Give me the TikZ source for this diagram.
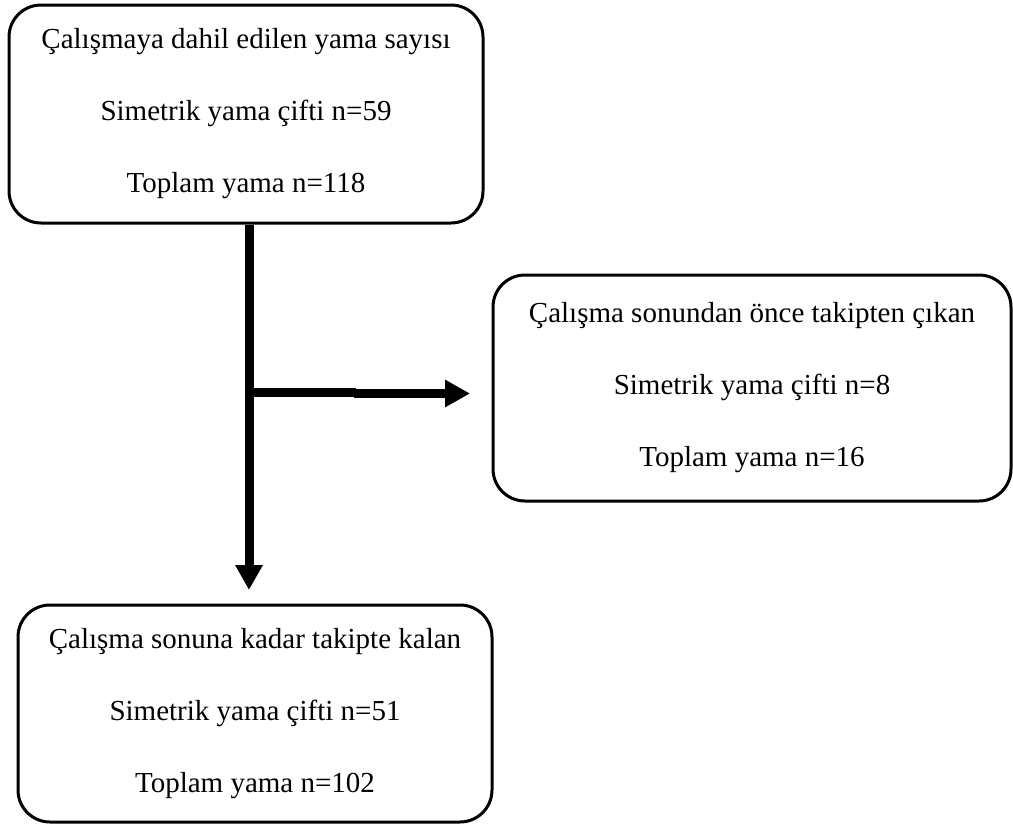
\documentclass[tikz,border=0pt]{standalone}
\usepackage{fontspec}
\setmainfont{Liberation Serif}
\usetikzlibrary{arrows.meta, positioning}

\begin{document}
\begin{tikzpicture}[x=0.5pt, y=-0.5pt,
  box/.style={draw, line width=1.5pt, rounded corners=16pt, align=center, inner sep=0pt,
    font=\fontsize{14.5pt}{36pt}\selectfont},
  flowline/.style={line width=4.5pt},
  flowarrow/.style={flowline, -{Triangle[length=12.5pt, width=13pt]}}]
\useasboundingbox (0,0) rectangle (1013,825);

% boxes
\node[box, minimum width=237pt, minimum height=109pt] (included) at (246,114)
  {Çalışmaya dahil edilen yama sayısı\\Simetrik yama çifti n=59\\Toplam yama n=118};
\node[box, minimum width=259pt, minimum height=113pt] (lost) at (752,388)
  {Çalışma sonundan önce takipten çıkan\\Simetrik yama çifti n=8\\Toplam yama n=16};
\node[box, minimum width=237pt, minimum height=108.5pt] (remained) at (255,713.5)
  {Çalışma sonuna kadar takipte kalan\\Simetrik yama çifti n=51\\Toplam yama n=102};

% arrows
\coordinate (split) at (249,392);
\coordinate (stepleft) at (356,392);
\coordinate (stepright) at (354,393.5);
\coordinate (downend) at (249,590);
\coordinate (rightend) at (470,393.5);
\draw[flowarrow] (split |- included.south) -- (downend);
\draw[flowline] (split) -- (stepleft);
\draw[flowarrow] (stepright) -- (rightend);
\end{tikzpicture}
\end{document}
